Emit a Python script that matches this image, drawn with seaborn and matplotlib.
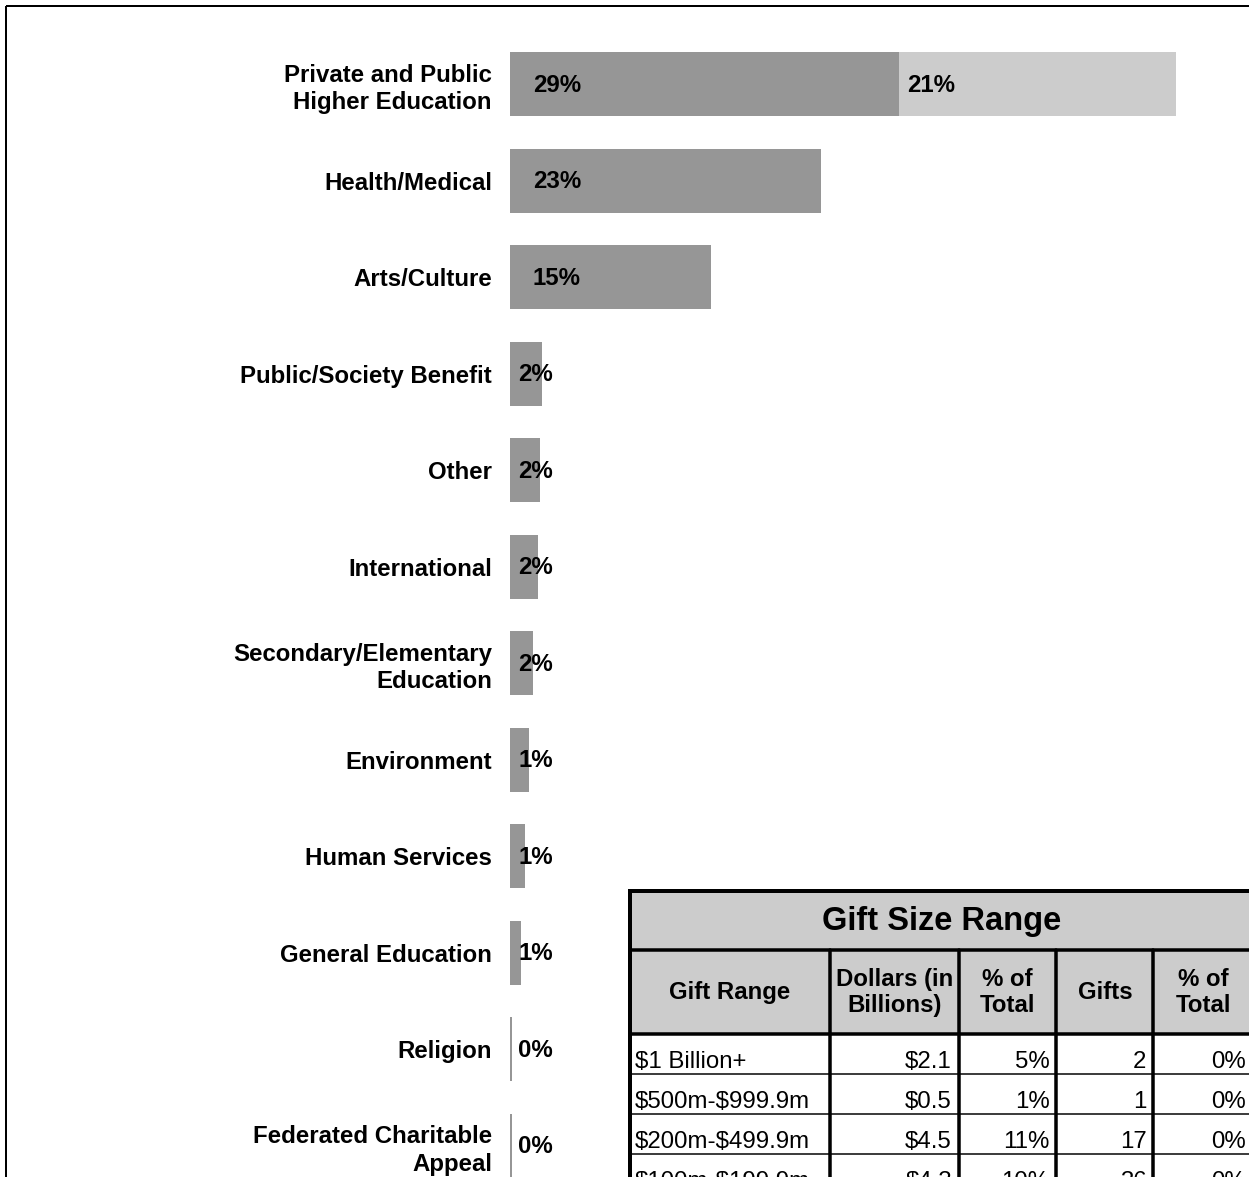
import matplotlib
matplotlib.use("Agg")
import matplotlib.pyplot as plt
from matplotlib.patches import Rectangle
import seaborn as sns
import pandas as pd

# ---- bar chart data: share of dollars by recipient type (%) ----
categories = [
    "Private and Public\nHigher Education",
    "Health/Medical",
    "Arts/Culture",
    "Public/Society Benefit",
    "Other",
    "International",
    "Secondary/Elementary\nEducation",
    "Environment",
    "Human Services",
    "General Education",
    "Religion",
    "Federated Charitable\nAppeal",
]
share_primary = [29.0, 23.2, 15.0, 2.4, 2.2, 2.1, 1.7, 1.4, 1.1, 0.8, 0.15, 0.15]
share_secondary = [20.7, 0, 0, 0, 0, 0, 0, 0, 0, 0, 0, 0]

# ---- gift size table data ----
table_title = "Gift Size Range"
table_headers = ["Gift Range", "Dollars (in\nBillions)", "% of\nTotal", "Gifts", "% of\nTotal"]
gift_ranges = ["$1 Billion+", "$500m-$999.9m", "$200m-$499.9m", "$100m-$199.9m"]
dollars_billions = [2.1, 0.5, 4.5, 4.3]
dollars_pct = [5, 1, 11, 10]
gift_counts = [2, 1, 17, 36]
gifts_pct = [0, 0, 0, 0]

DARK = "#969696"
LIGHT = "#CCCCCC"
FS = 17.3

sns.set_theme(style="white")
plt.rcParams["font.family"] = ["Liberation Sans", "DejaVu Sans"]

W, H = 1249, 1177
fig = plt.figure(figsize=(W / 100, H / 100), dpi=100)
fig.patch.set_facecolor("white")

ax = fig.add_axes([510 / W, 0, 670.5 / W, 1141 / H])

df = pd.DataFrame({
    "category": categories,
    "primary": share_primary,
    "secondary": share_secondary,
})
df["total"] = df["primary"] + df["secondary"]

# stacked bars: full total in light gray, first segment over it in dark gray
sns.barplot(data=df, y="category", x="total", color=LIGHT, saturation=1,
            width=0.66, linewidth=0, ax=ax)
sns.barplot(data=df, y="category", x="primary", color=DARK, saturation=1,
            width=0.66, linewidth=0, ax=ax)

ax.set_xlim(0, 50)
ax.set_ylim(11.324, -0.5)
ax.set_xticks([])
ax.set_xlabel("")
ax.set_ylabel("")
for side in ["left", "right", "top", "bottom"]:
    ax.spines[side].set_visible(False)
ax.tick_params(axis="y", length=0, pad=13, labelsize=FS)
for lbl in ax.get_yticklabels():
    lbl.set_fontweight("bold")
    lbl.set_color("black")
    lbl.set_linespacing(1.25)

# value labels near the base of each segment
for i, (p, s) in enumerate(zip(share_primary, share_secondary)):
    off = 16.5 if p >= 10 else 5.8
    ax.annotate(f"{p:.0f}%", xy=(0, i), xytext=(off, -0.7), textcoords="offset points",
                ha="left", va="center", fontsize=FS, fontweight="bold", color="black")
    if s > 0:
        ax.annotate(f"{s:.0f}%", xy=(p, i), xytext=(5.8, -0.7), textcoords="offset points",
                    ha="left", va="center", fontsize=FS, fontweight="bold", color="black")

# ---- overlay in pixel coordinates for frame and table ----
ov = fig.add_axes([0, 0, 1, 1], zorder=5)
ov.set_xlim(0, W)
ov.set_ylim(H, 0)
ov.axis("off")

px = 0.72  # points per pixel

# outer frame
ov.add_patch(Rectangle((6, 6), 1400, 1400, fill=False, ec="black", lw=2 * px))

col_edges = [630, 830, 959, 1056.5, 1153.5, 1253]
t_top, t_title_bot, t_head_bot = 891, 949.5, 1033.5
row_h = 40
n_rows = len(gift_ranges)
row_edges = [t_head_bot + row_h * k for k in range(n_rows + 1)]
t_left, t_right = col_edges[0], col_edges[-1]
t_bottom = row_edges[-1]

ov.add_patch(Rectangle((t_left, t_top), t_right - t_left, t_head_bot - t_top,
                       fc=LIGHT, ec="none"))
ov.add_patch(Rectangle((t_left, t_head_bot), t_right - t_left, t_bottom - t_head_bot,
                       fc="white", ec="none"))

thick = 3.5 * px
thin = 1.5 * px
# horizontal rules
ov.plot([t_left, t_right], [t_top, t_top], color="black", lw=4 * px, solid_capstyle="projecting")
ov.plot([t_left, t_right], [t_title_bot, t_title_bot], color="black", lw=thick)
ov.plot([t_left, t_right], [t_head_bot, t_head_bot], color="black", lw=thick)
for y in row_edges[1:]:
    ov.plot([t_left, t_right], [y, y], color="black", lw=thin)
# vertical rules
ov.plot([t_left, t_left], [t_top, t_bottom], color="black", lw=4 * px, solid_capstyle="projecting")
for x in col_edges[1:-1]:
    ov.plot([x, x], [t_title_bot, t_bottom], color="black", lw=thick)
ov.plot([t_right, t_right], [t_top, t_bottom], color="black", lw=4 * px)

# title and headers
ov.text((t_left + t_right) / 2, (t_top + t_title_bot) / 2 + 1, table_title,
        ha="center", va="center", fontsize=23.5, fontweight="bold", color="black")
for c, head in enumerate(table_headers):
    cx = (col_edges[c] + col_edges[c + 1]) / 2
    ov.text(cx, (t_title_bot + t_head_bot) / 2 + 1, head, ha="center", va="center",
            multialignment="center", fontsize=FS, fontweight="bold", color="black",
            linespacing=1.2)

# body rows
for r in range(n_rows):
    base = row_edges[r + 1] - 6
    cells = [
        gift_ranges[r],
        f"${dollars_billions[r]:.1f}",
        f"{dollars_pct[r]}%",
        f"{gift_counts[r]}",
        f"{gifts_pct[r]}%",
    ]
    ov.text(col_edges[0] + 5, base, cells[0], ha="left", va="baseline",
            fontsize=FS, color="black", parse_math=False)
    for c in range(1, 5):
        ov.text(col_edges[c + 1] - 7, base, cells[c], ha="right", va="baseline",
                fontsize=FS, color="black", parse_math=False)

fig.savefig("out.png", dpi=100, facecolor="white")
